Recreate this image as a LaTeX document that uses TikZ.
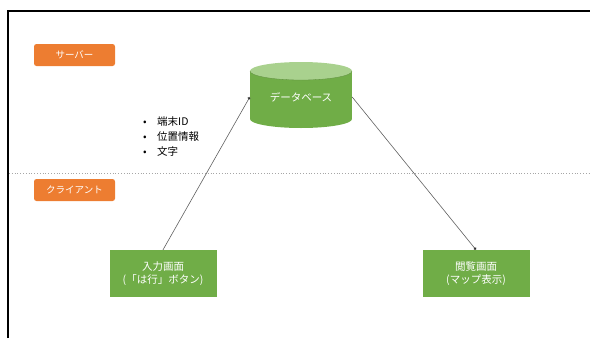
\documentclass[tikz,border=0pt]{standalone}
\usepackage{fontspec}
\setmainfont{Noto Sans CJK JP}
\usetikzlibrary{arrows.meta}
\definecolor{orangeA}{HTML}{ED7D31}
\definecolor{greenA}{HTML}{70AD47}
\definecolor{greenL}{HTML}{A9D18E}
\definecolor{lineG}{HTML}{606060}
\tikzset{
  lbl/.style={fill=orangeA, rounded corners=2.5pt, text=white, minimum width=81pt, minimum height=22pt, inner sep=0pt, font=\fontsize{9.5}{11}\selectfont},
  screen/.style={fill=greenA, text=white, minimum width=107pt, minimum height=47pt, inner sep=0pt, align=center, font=\fontsize{10.5}{13}\selectfont},
  conn/.style={draw=lineG, line width=0.6pt, -{Circle[length=3pt,fill=black]}},
}
\begin{document}
\begin{tikzpicture}[x=1pt,y=-1pt]
\useasboundingbox (0,0) rectangle (590,338);
% frame
\draw[line width=2pt] (8,338) -- (8,11) -- (590,11);
% separator
\coordinate (sepL) at (9,173);
\coordinate (sepR) at (590,173);
\draw[gray!70, dotted, line width=0.8pt] (sepL) -- (sepR);
% labels
\node[lbl] (server) at (74.5,55) {サーバー};
\node[lbl] (client) at (74.5,190) {クライアント};
% database cylinder
\fill[greenA] (250,71) rectangle (352,119);
\fill[greenA] (250,119) arc[start angle=180, end angle=0, x radius=51, y radius=9];
\fill[greenL] (301,71) ellipse[x radius=51, y radius=9];
\draw[greenA!80!black, line width=0.3pt] (250,71) arc[start angle=180, end angle=0, x radius=51, y radius=9];
\node[minimum width=102pt, minimum height=48pt, inner sep=0pt, text=white, font=\fontsize{10.5}{12}\selectfont] (db) at (301,97) {データベース};
% screens
\node[screen] (input) at (163,273.5) {入力画面\\(「は行」ボタン)};
\node[screen] (view) at (476,273.5) {閲覧画面\\(マップ表示)};
% bullet list
\node[anchor=north west, inner sep=0pt, align=left, font=\fontsize{10.5}{15}\selectfont] (data) at (143,116) {\makebox[14pt][l]{•}端末ID\\\makebox[14pt][l]{•}位置情報\\\makebox[14pt][l]{•}文字};
% connectors
\draw[conn] (input.north) -- (db.west);
\draw[conn] (db.east) -- (view.north);
\end{tikzpicture}
\end{document}
